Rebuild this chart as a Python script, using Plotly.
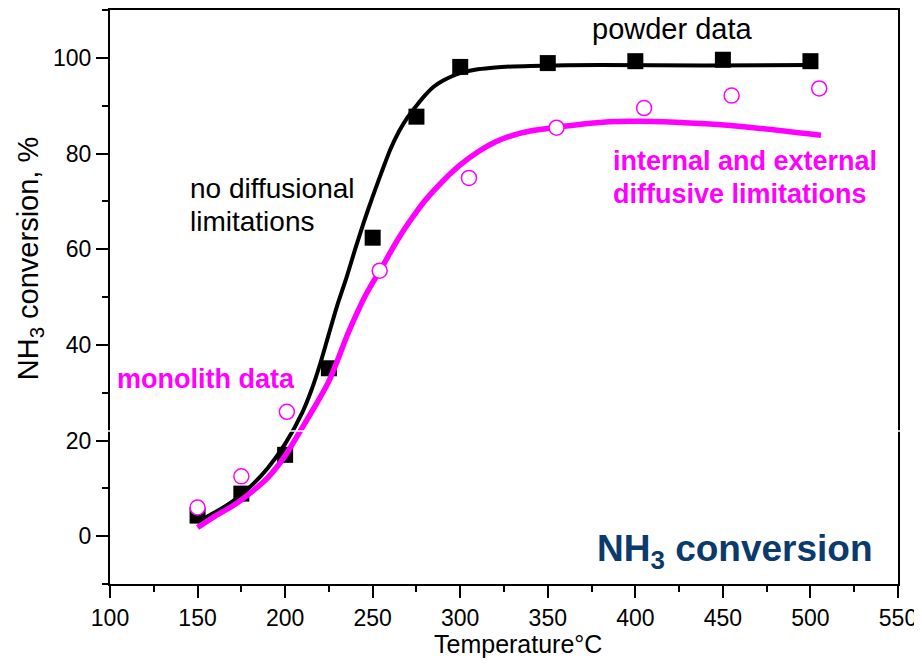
import plotly.graph_objects as go

# ---- data ----
powder_T = [150, 175, 200, 225, 250, 275, 300, 350, 400, 450, 500]
powder_conv = [4.3, 8.9, 17.0, 35.1, 62.4, 87.7, 98.1, 98.9, 99.3, 99.6, 99.3]

monolith_T = [150, 175, 201, 254, 305, 355, 405, 455, 505]
monolith_conv = [6.0, 12.5, 26.0, 55.5, 74.9, 85.4, 89.5, 92.1, 93.6]

fit_powder_T = [150, 160, 170, 180, 190, 200, 210, 215, 220, 225, 230, 235, 240, 245, 250, 255, 260,
                265, 270, 275, 280, 285, 290, 295, 300, 310, 320, 340, 380, 440, 500]
fit_powder_conv = [3.0, 5.0, 7.3, 10.3, 14.2, 19.3, 26.0, 30.5, 36.0, 42.3, 48.5, 54.0, 60.0, 65.7,
                   71.0, 76.0, 80.8, 84.6, 87.6, 90.0, 92.2, 94.0, 95.2, 96.1, 96.8, 97.6, 98.0,
                   98.3, 98.5, 98.4, 98.5]

fit_mono_T = [150, 160, 170, 180, 190, 200, 210, 220, 225, 230, 235, 240, 245, 250, 255, 260, 265,
              270, 275, 280, 290, 300, 310, 320, 330, 340, 355, 380, 410, 440, 470, 506]
fit_mono_conv = [1.8, 4.2, 6.3, 9.0, 12.2, 16.8, 22.8, 29.0, 32.4, 36.8, 41.6, 45.8, 49.7, 53.0,
                 56.0, 59.3, 62.4, 65.2, 67.8, 70.2, 74.2, 77.6, 80.3, 82.4, 83.8, 84.7, 85.5,
                 86.5, 86.7, 86.2, 85.3, 83.8]

x_ticks = [100, 150, 200, 250, 300, 350, 400, 450, 500, 550]
y_ticks = [0, 20, 40, 60, 80, 100]

FONT = "Arial, Liberation Sans, sans-serif"
MAGENTA = "#ff00ff"
NAVY = "#0b3a6c"

# page offset (browser body margin) and plot area in page pixels
OFF = 8
PAGE_W, PAGE_H = 922, 665
L, R, T, B = 110, 898, 8, 584
W, H = PAGE_W - OFF, PAGE_H - OFF


def px(x):
    return (x - L) / (R - L)


def py(y):
    return (B - y) / (B - T)


fig = go.Figure()

fig.add_trace(go.Scatter(x=powder_T, y=powder_conv, mode="markers",
                         marker=dict(symbol="square", size=16, color="black"),
                         showlegend=False))
fig.add_trace(go.Scatter(x=fit_powder_T, y=fit_powder_conv, mode="lines",
                         line=dict(color="black", width=4, shape="spline", smoothing=0.6),
                         showlegend=False))
fig.add_trace(go.Scatter(x=fit_mono_T, y=fit_mono_conv, mode="lines",
                         line=dict(color=MAGENTA, width=5.5, shape="spline", smoothing=0.6),
                         showlegend=False))
fig.add_trace(go.Scatter(x=monolith_T, y=monolith_conv, mode="markers",
                         marker=dict(symbol="circle", size=15, color="white",
                                     line=dict(color=MAGENTA, width=1.5)),
                         showlegend=False))

axis_common = dict(showline=True, linecolor="black", linewidth=2, mirror=True,
                   ticks="outside", ticklen=12, tickwidth=2, tickcolor="black",
                   showgrid=False, zeroline=False,
                   tickfont=dict(family=FONT, size=23, color="black"))

fig.update_xaxes(range=[100, 550], tickvals=x_ticks, ticktext=[str(v) for v in x_ticks],
                 minor=dict(dtick=25, tick0=100, ticks="outside", ticklen=6, tickwidth=2,
                            tickcolor="black", showgrid=False),
                 **axis_common)
fig.update_yaxes(range=[-10, 110], tickvals=y_ticks, ticktext=[str(v) for v in y_ticks],
                 minor=dict(dtick=10, tick0=0, ticks="outside", ticklen=6, tickwidth=2,
                            tickcolor="black", showgrid=False),
                 **axis_common)

ann = []


def text(x, y, s, size, color="black", bold=False, xanchor="left", angle=0):
    if bold:
        s = "<b>" + s + "</b>"
    ann.append(dict(x=px(x), y=py(y), xref="paper", yref="paper", text=s, showarrow=False,
                    xanchor=xanchor, yanchor="middle", textangle=angle,
                    font=dict(family=FONT, size=size, color=color)))


text(672, 27, "powder data", 29, xanchor="center")
text(188, 187, "no diffusional", 28)
text(188, 220, "limitations", 28)
text(115, 378, "monolith data", 27, MAGENTA, bold=True)
text(611, 160, "internal and external", 27, MAGENTA, bold=True)
text(611, 193, "diffusive limitations", 27, MAGENTA, bold=True)
text(595, 551, "NH<sub>3</sub> conversion", 37, NAVY, bold=True)
text(518, 644, "Temperature°C", 25, xanchor="center")
text(30, 258, "NH<sub>3</sub> conversion, %", 29, xanchor="center", angle=-90)

# thin white scan gap visible across the reference image
gap_y = py(430.5)
shapes = [dict(type="line", xref="paper", yref="paper", x0=px(OFF), x1=px(PAGE_W),
               y0=gap_y, y1=gap_y, line=dict(color="white", width=1.5), layer="above")]

fig.update_layout(width=W, height=H,
                  margin=dict(l=L - OFF, r=PAGE_W - R, t=T - OFF, b=PAGE_H - B),
                  plot_bgcolor="white", paper_bgcolor="white", annotations=ann,
                  shapes=shapes, font=dict(family=FONT))

fig.write_html("out.html")
